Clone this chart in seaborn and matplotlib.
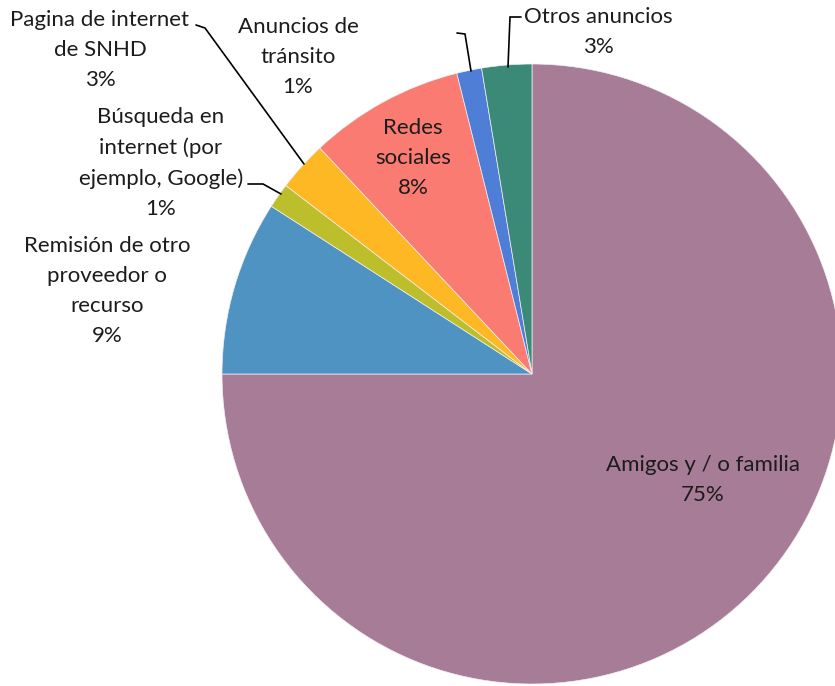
import matplotlib
matplotlib.use("Agg")
import matplotlib.pyplot as plt
import seaborn as sns

# ---- data ----
categories = ["Amigos y / o familia", "Remisión de otro\nproveedor o\nrecurso",
              "Búsqueda en\ninternet (por\nejemplo, Google)", "Pagina de internet\nde SNHD",
              "Redes\nsociales", "Anuncios de\ntránsito", "Otros anuncios"]
values = [75.0, 9.1, 1.3, 2.6, 8.1, 1.3, 2.6]
colors = ["#A67C96", "#4F93C3", "#BDBE2C", "#FDB824", "#F97B72", "#4F7ED6", "#3B8A78"]

sns.set_theme(style="white")
plt.rcParams["font.family"] = ["Lato", "DejaVu Sans"]

W, H = 835, 686
fig = plt.figure(figsize=(W / 100, H / 100), dpi=100)
ax = fig.add_axes([0, 0, 1, 1])

def Y(y):
    return H - y

ax.pie(values, colors=colors, startangle=90, counterclock=False,
       center=(532, Y(374)), radius=310, frame=True,
       wedgeprops=dict(linewidth=0.5, edgecolor="#f4eef2"))
ax.set_xlim(0, W)
ax.set_ylim(0, H)
ax.set_aspect("equal")
ax.axis("off")

pct = [f"{v:.0f}%" for v in values]
label_pos = [(703, 480), (107, 291), (161, 163), (100, 50), (413, 158), (298, 57), (598, 32)]
fs = 16
for cat, p, (x, y) in zip(categories, pct, label_pos):
    ax.text(x, Y(y), f"{cat}\n{p}", ha="center", va="center", fontsize=fs,
            color="#1c1c1c", linespacing=1.62)

leaders = [
    [(196, 25), (205, 28), (304, 164)],
    [(248, 184), (263, 184), (281, 194)],
    [(457, 33), (465, 34), (471, 71)],
    [(521, 17), (510, 17), (508, 67)],
]
for pts in leaders:
    ax.plot([p[0] for p in pts], [Y(p[1]) for p in pts], color="black", lw=1.2,
            solid_joinstyle="miter")

fig.savefig("out.png", dpi=100, facecolor="white")
